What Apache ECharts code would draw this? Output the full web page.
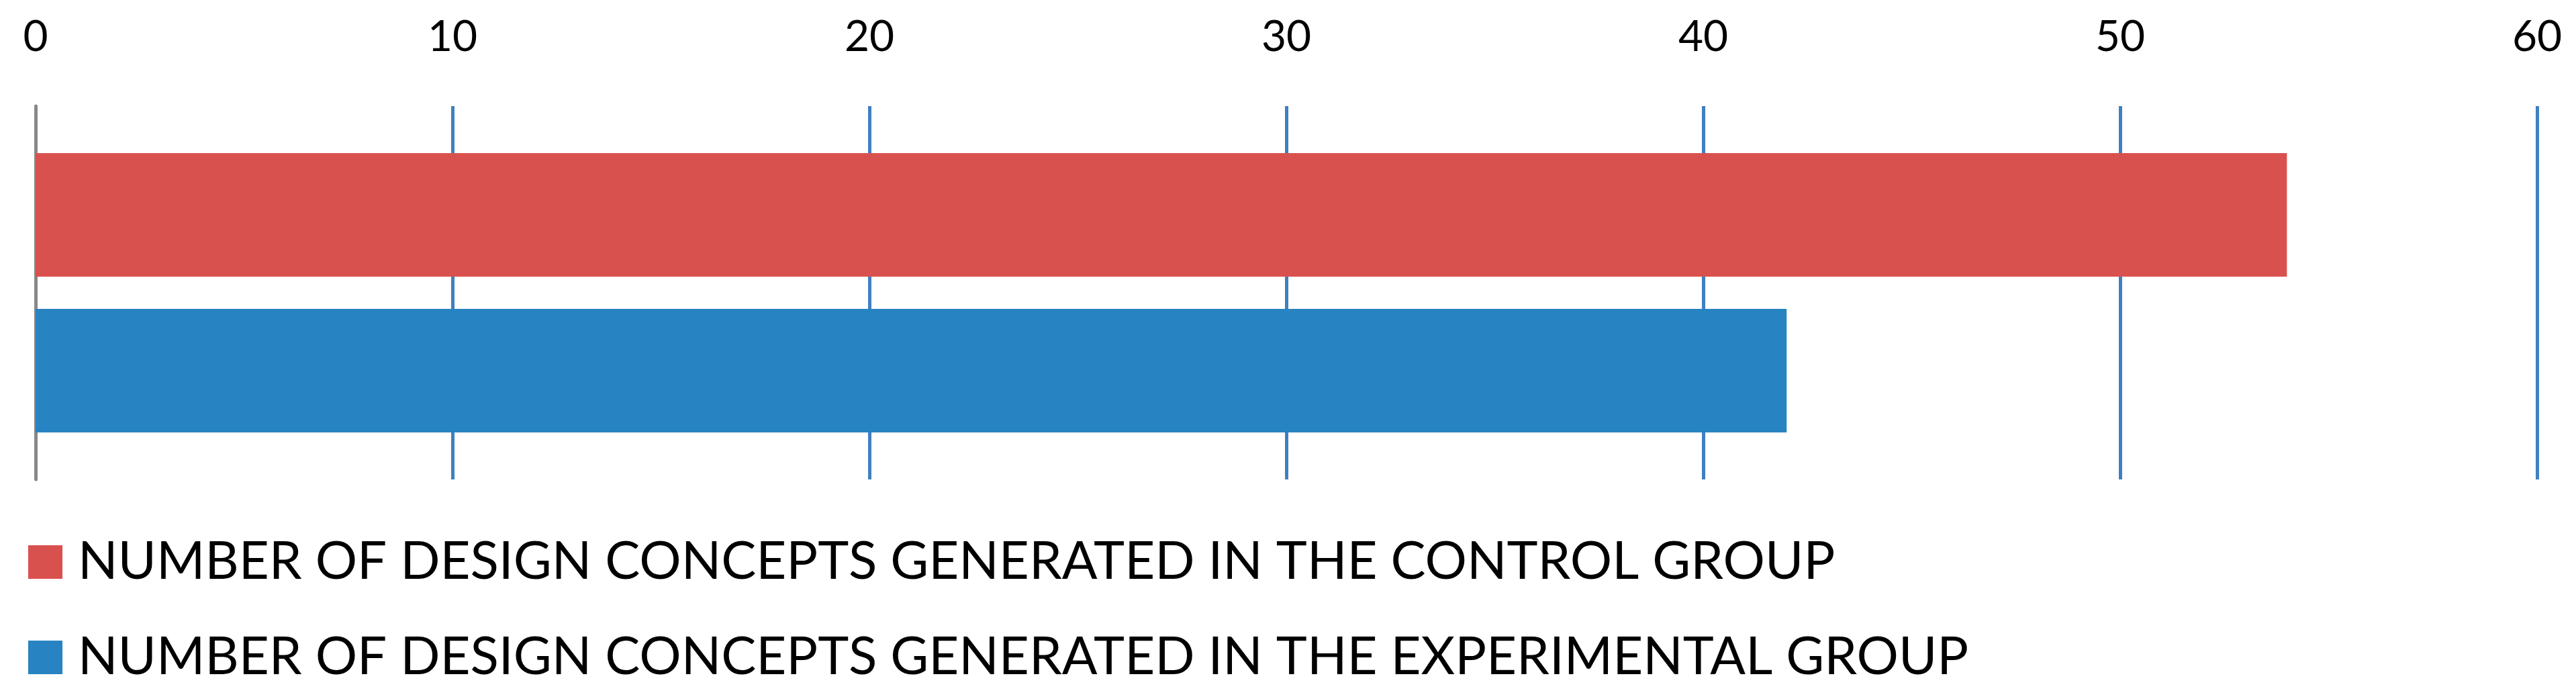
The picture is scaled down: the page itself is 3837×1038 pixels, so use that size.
<!DOCTYPE html>
<html>
<head>
<meta charset="utf-8">
<script src="https://cdn.jsdelivr.net/npm/echarts@6/dist/echarts.min.js"></script>
<style>html,body{margin:0;padding:0;background:#fff;}#c{width:3837px;height:1038px;}</style>
</head>
<body>
<div id="c"></div>
<script>
const categories = ['Design concepts'];
const seriesNames = [
  'NUMBER OF DESIGN CONCEPTS GENERATED IN THE CONTROL GROUP',
  'NUMBER OF DESIGN CONCEPTS GENERATED IN THE EXPERIMENTAL GROUP'
];
const controlValues = [54];
const experimentalValues = [42];
const xTicks = { min: 0, max: 60, interval: 10 };

const legendText = { color: '#000', fontSize: 78, fontFamily: 'Lato', padding: [0, 0, 0, 18] };
const chart = echarts.init(document.getElementById('c'));
chart.setOption({
  animation: false,
  backgroundColor: '#ffffff',
  textStyle: { fontFamily: 'Lato' },
  grid: { left: 53, right: 3837 - 3779, top: 158, bottom: 1038 - 714, containLabel: false },
  xAxis: {
    type: 'value', position: 'top',
    min: xTicks.min, max: xTicks.max, interval: xTicks.interval,
    axisLine: { show: false }, axisTick: { show: false },
    axisLabel: { color: '#000', fontSize: 64, fontFamily: 'Lato', margin: 71 },
    splitLine: { show: true, lineStyle: { color: '#3f80c0', width: 5 } }
  },
  yAxis: {
    type: 'category', data: categories, inverse: true,
    axisLine: { show: true, lineStyle: { color: '#888888', width: 5 } },
    axisTick: { show: false }, axisLabel: { show: false }, splitLine: { show: false }
  },
  legend: [
    { left: 42, top: 798, padding: 0, itemWidth: 51, itemHeight: 50, icon: 'rect',
      textStyle: legendText, data: [seriesNames[0]] },
    { left: 42, top: 940, padding: 0, itemWidth: 51, itemHeight: 50, icon: 'rect',
      textStyle: legendText, data: [seriesNames[1]] }
  ],
  series: [
    { name: seriesNames[0], type: 'bar', data: controlValues, barWidth: 184, barGap: '26%',
      itemStyle: { color: '#d9514e' } },
    { name: seriesNames[1], type: 'bar', data: experimentalValues, barWidth: 184,
      itemStyle: { color: '#2783c2' } }
  ]
});
</script>
</body>
</html>
